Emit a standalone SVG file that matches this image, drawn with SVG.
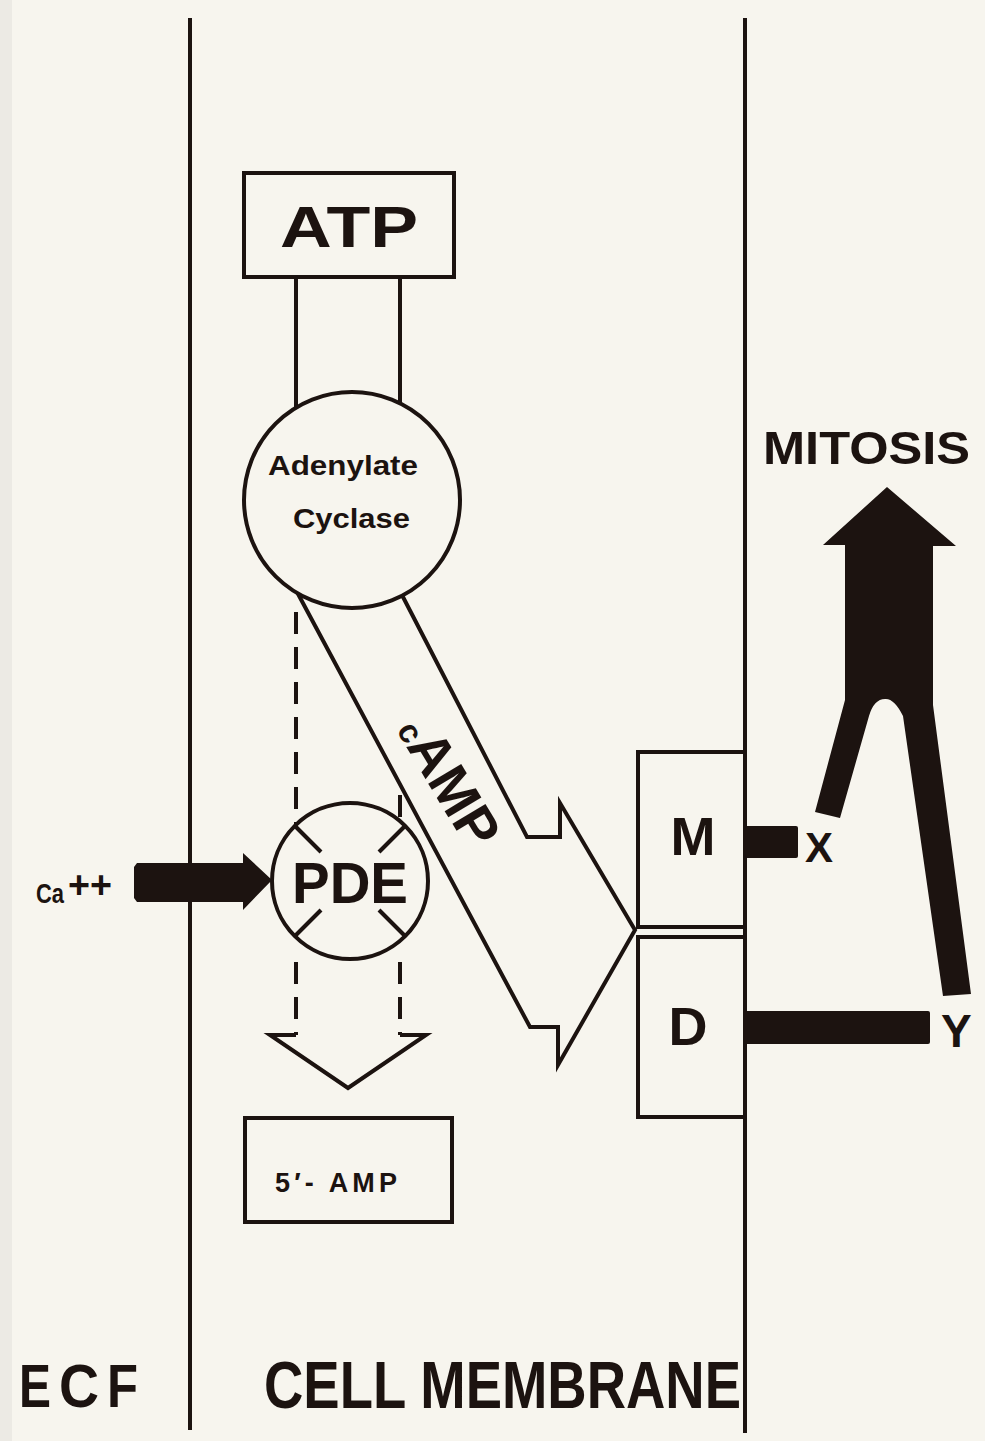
<svg xmlns="http://www.w3.org/2000/svg" width="985" height="1441" viewBox="0 0 985 1441">
<style>
.ink{stroke:#1c1310;stroke-width:4;fill:none}
.box{stroke:#1c1310;stroke-width:4;fill:#f7f5ee}
.solid{fill:#1c1310;stroke:none}
.dash{stroke:#1c1310;stroke-width:4;fill:none;stroke-dasharray:22 13}
text{font-family:"Liberation Sans",Arial,Helvetica,sans-serif;font-weight:bold;fill:#1c1310}
</style>
<rect x="0" y="0" width="985" height="1441" fill="#f7f5ee"/>
<rect x="0" y="0" width="12" height="1441" fill="#eceae4"/>

<g id="membrane">
  <line class="ink" x1="190" y1="18" x2="190" y2="1430"/>
  <line class="ink" x1="745" y1="18" x2="745" y2="1433"/>
</g>

<g id="connectors">
  <line class="ink" x1="296" y1="276" x2="296" y2="410"/>
  <line class="ink" x1="400" y1="276" x2="400" y2="410"/>
  <line class="dash" x1="296" y1="612" x2="296" y2="826"/>
  <line class="dash" x1="400" y1="795" x2="400" y2="822"/>
  <line class="dash" x1="296" y1="962" x2="296" y2="1035"/>
  <line class="dash" x1="400" y1="962" x2="400" y2="1035"/>
  <polyline class="ink" stroke-linejoin="miter" points="296,1035 270,1035 348,1088 426,1035 400,1035"/>
  <polygon id="camp-arrow" class="box" stroke-linejoin="miter" points="297,592 530,1027 558,1027 558,1065 635,930 560,803 560,837 527,837 402,595"/>
  <polygon id="ca-arrow" class="solid" points="137,863 243,863 243,853 272,880 243,910 243,902 137,902 134,898 134,867"/>
  <rect id="x-bar" class="solid" x="745" y="826" width="53" height="32" rx="2"/>
  <rect id="y-bar" class="solid" x="745" y="1011" width="185" height="33" rx="2"/>
  <path id="mitosis-arrow" class="solid" d="M823,545 L887,487 L956,546 L933,546 L933,705 L971,994 L943,996 L903,716 Q894,698 885,699 Q874,699 869,716 L840,818 L815,812 L845,700 L845,545 Z"/>
</g>

<g id="atp">
  <rect class="box" x="244" y="173" width="210" height="104"/>
  <text x="280" y="247" font-size="58" textLength="138" lengthAdjust="spacingAndGlyphs">ATP</text>
</g>

<g id="adenylate-cyclase">
  <circle class="box" cx="352" cy="500" r="108"/>
  <text x="268" y="475" font-size="27" textLength="150" lengthAdjust="spacingAndGlyphs">Adenylate</text>
  <text x="293" y="528" font-size="27" textLength="117" lengthAdjust="spacingAndGlyphs">Cyclase</text>
</g>

<g id="camp-label" transform="translate(450,781) rotate(59)">
  <text x="0" y="20" text-anchor="middle"><tspan font-size="33">c</tspan><tspan font-size="56">AMP</tspan></text>
</g>

<g id="pde">
  <circle class="box" cx="350" cy="881" r="78"/>
  <line class="ink" x1="294" y1="825" x2="321" y2="852"/>
  <line class="ink" x1="406" y1="825" x2="379" y2="852"/>
  <line class="ink" x1="294" y1="937" x2="321" y2="910"/>
  <line class="ink" x1="406" y1="937" x2="379" y2="910"/>
  <text x="292" y="903" font-size="58" textLength="116" lengthAdjust="spacingAndGlyphs">PDE</text>
</g>

<g id="ca">
  <text x="36" y="903" font-size="28" textLength="28" lengthAdjust="spacingAndGlyphs">Ca</text>
  <text x="68" y="898" font-size="38" textLength="44" lengthAdjust="spacingAndGlyphs">++</text>
</g>

<g id="amp5">
  <rect class="box" x="245" y="1118" width="207" height="104"/>
  <text x="275" y="1192" font-size="27" textLength="122" lengthAdjust="spacing">5′- AMP</text>
</g>

<g id="m-box">
  <polyline class="ink" stroke-linejoin="miter" points="745,752 638,752 638,927 745,927"/>
  <text x="693" y="855" font-size="54" text-anchor="middle">M</text>
</g>

<g id="d-box">
  <polyline class="ink" stroke-linejoin="miter" points="745,937 638,937 638,1117 745,1117"/>
  <text x="688" y="1045" font-size="54" text-anchor="middle">D</text>
</g>

<g id="labels">
  <text x="805" y="862" font-size="42">X</text>
  <text x="941" y="1047" font-size="46">Y</text>
  <text x="763" y="464" font-size="46" textLength="207" lengthAdjust="spacingAndGlyphs">MITOSIS</text>
  <text y="1407" font-size="62"><tspan x="19" textLength="32" lengthAdjust="spacingAndGlyphs">E</tspan><tspan x="59" textLength="40" lengthAdjust="spacingAndGlyphs">C</tspan><tspan x="107" textLength="31" lengthAdjust="spacingAndGlyphs">F</tspan></text>
  <text x="264" y="1408" font-size="66" textLength="477" lengthAdjust="spacingAndGlyphs">CELL MEMBRANE</text>
</g>
</svg>
